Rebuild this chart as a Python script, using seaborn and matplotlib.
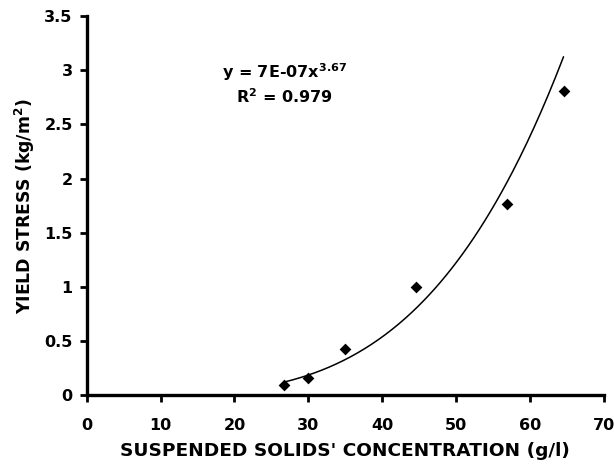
import numpy as np
import pandas as pd
import matplotlib as mpl
mpl.use('Agg')
import matplotlib.pyplot as plt
import seaborn as sns

conc = [26.7, 29.9, 35.0, 44.6, 56.8, 64.5]
yield_stress = [0.10, 0.16, 0.43, 1.00, 1.77, 2.81]

# power-law trendline (coefficient is shown rounded on the chart)
coef_a = 7.14e-07
coef_b = 3.67
eq_label = 'y = 7E-07x$^{3.67}$'
r2_label = 'R$^{2}$ = 0.979'

xticks = [0, 10, 20, 30, 40, 50, 60, 70]
yticks = [0, 0.5, 1, 1.5, 2, 2.5, 3, 3.5]
ytick_labels = ['0', '0.5', '1', '1.5', '2', '2.5', '3', '3.5']

sns.set_theme(style='ticks')
plt.rcParams['font.family'] = ['DejaVu Sans']
plt.rcParams['font.weight'] = 'bold'
plt.rcParams['text.color'] = 'black'
plt.rcParams['axes.labelcolor'] = 'black'
plt.rcParams['mathtext.fontset'] = 'custom'
plt.rcParams['mathtext.rm'] = 'DejaVu Sans:bold'
plt.rcParams['mathtext.it'] = 'DejaVu Sans:bold'
plt.rcParams['mathtext.bf'] = 'DejaVu Sans:bold'
plt.rcParams['mathtext.default'] = 'rm'

df = pd.DataFrame({'conc': conc, 'stress': yield_stress})
xfit = np.linspace(min(conc), max(conc), 200)
fit = pd.DataFrame({'conc': xfit, 'stress': coef_a * xfit ** coef_b})

fig = plt.figure(figsize=(6.14, 4.73), dpi=100)
ax = fig.add_axes([0.141, 0.164, 0.843, 0.802])

sns.lineplot(data=fit, x='conc', y='stress', color='black', linewidth=1.1, ax=ax)
sns.scatterplot(data=df, x='conc', y='stress', marker='D', s=36, color='black',
                edgecolor='black', linewidth=0, ax=ax, zorder=3)

ax.set_xlim(0, 70)
ax.set_ylim(0, 3.5)
ax.set_xticks(xticks)
ax.set_yticks(yticks)
ax.set_yticklabels(ytick_labels)
ax.tick_params(axis='both', labelsize=11.5, width=2, length=5, color='black',
               labelcolor='black', direction='out', pad=5)
ax.tick_params(axis='x', pad=11)
for s in ['left', 'bottom']:
    ax.spines[s].set_linewidth(2.4)
    ax.spines[s].set_color('black')
sns.despine(ax=ax)

ax.set_xlabel("SUSPENDED SOLIDS' CONCENTRATION (g/l)", fontsize=13.3, fontweight='bold',
              labelpad=7, color='black')
ax.set_ylabel('YIELD STRESS (kg/m$^{2}$)', fontsize=12.4, fontweight='bold',
              labelpad=5, color='black')

ax.text(26.8, 2.98, eq_label, ha='center', va='center', fontsize=11.5, fontweight='bold', color='black')
ax.text(26.8, 2.76, r2_label, ha='center', va='center', fontsize=11.5, fontweight='bold', color='black')

fig.savefig('out.png', dpi=100, facecolor='white')
